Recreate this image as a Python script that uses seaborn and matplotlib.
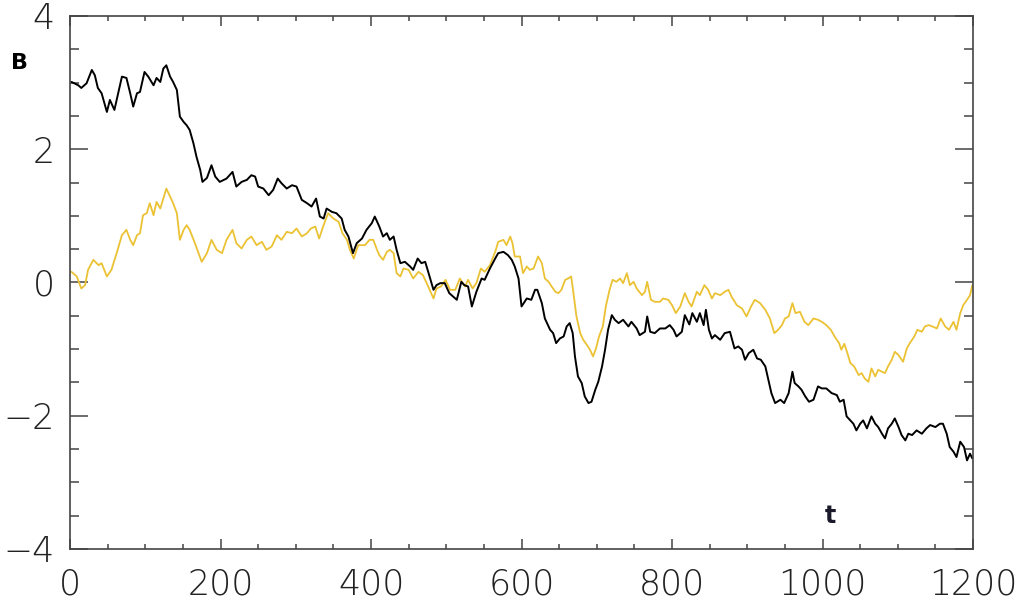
import matplotlib
matplotlib.use('Agg')
import matplotlib.pyplot as plt
from matplotlib.ticker import MultipleLocator
import pandas as pd
import seaborn as sns

# black series
t_black = [2, 11, 15, 22, 29, 33, 37, 42, 49, 53, 59, 64, 69, 75, 80, 84, 89, 93, 99, 104,
           111, 115, 120, 124, 128, 133, 137, 142, 146, 151, 155, 159, 164, 168, 173, 176, 182, 188, 193, 199,
           208, 216, 221, 228, 235, 241, 246, 250, 257, 264, 270, 276, 281, 288, 295, 301, 308, 315, 321, 327,
           332, 337, 341, 348, 354, 361, 365, 370, 376, 381, 388, 394, 401, 405, 411, 416, 421, 425, 430, 434,
           439, 445, 452, 456, 462, 467, 472, 476, 483, 487, 492, 498, 504, 509, 514, 520, 524, 529, 534, 540,
           547, 551, 558, 565, 569, 576, 582, 587, 591, 596, 600, 607, 613, 618, 621, 627, 631, 638, 642, 646,
           651, 656, 660, 664, 668, 671, 675, 680, 684, 689, 693, 698, 702, 707, 711, 715, 720, 724, 729, 735,
           742, 746, 753, 757, 764, 767, 771, 777, 784, 791, 797, 802, 806, 813, 817, 823, 827, 833, 837, 842,
           845, 849, 853, 857, 864, 870, 877, 883, 888, 893, 897, 902, 908, 913, 918, 924, 928, 932, 937, 944,
           949, 955, 960, 963, 968, 972, 977, 982, 988, 994, 999, 1005, 1012, 1019, 1023, 1028, 1032, 1037, 1041, 1045,
           1050, 1054, 1059, 1065, 1070, 1074, 1079, 1083, 1087, 1092, 1096, 1101, 1105, 1110, 1114, 1119, 1125, 1132, 1138, 1143,
           1150, 1156, 1160, 1165, 1169, 1174, 1178, 1183, 1188, 1192, 1196, 1199]
b_black = [3.01, 2.96, 2.92, 2.99, 3.19, 3.11, 2.92, 2.84, 2.56, 2.74, 2.59, 2.84, 3.09, 3.07, 2.84, 2.64, 2.84, 2.86, 3.16, 3.09,
           2.96, 3.07, 3.01, 3.21, 3.26, 3.09, 3.01, 2.89, 2.49, 2.41, 2.36, 2.29, 2.09, 1.89, 1.69, 1.51, 1.57, 1.76, 1.59, 1.51,
           1.56, 1.66, 1.44, 1.51, 1.54, 1.61, 1.59, 1.44, 1.41, 1.31, 1.39, 1.56, 1.49, 1.41, 1.46, 1.44, 1.24, 1.19, 1.14, 1.26,
           0.99, 0.96, 1.11, 1.06, 1.04, 0.96, 0.79, 0.69, 0.44, 0.59, 0.66, 0.79, 0.89, 0.99, 0.84, 0.69, 0.74, 0.64, 0.69, 0.49,
           0.29, 0.31, 0.24, 0.19, 0.36, 0.29, 0.31, 0.16, -0.11, -0.04, -0.01, -0.01, -0.16, -0.21, -0.26, 0.01, -0.04, -0.06, -0.36, -0.14,
           0.06, 0.04, 0.21, 0.36, 0.44, 0.46, 0.41, 0.34, 0.24, 0.06, -0.36, -0.24, -0.26, -0.11, -0.11, -0.31, -0.54, -0.71, -0.76, -0.91,
           -0.84, -0.81, -0.66, -0.61, -0.76, -1.11, -1.41, -1.51, -1.71, -1.81, -1.79, -1.61, -1.49, -1.26, -1.01, -0.71, -0.49, -0.56, -0.61, -0.56,
           -0.66, -0.59, -0.69, -0.79, -0.74, -0.51, -0.74, -0.76, -0.69, -0.69, -0.64, -0.71, -0.81, -0.74, -0.49, -0.63, -0.46, -0.59, -0.46, -0.64,
           -0.41, -0.71, -0.84, -0.79, -0.86, -0.76, -0.74, -0.99, -0.96, -1.01, -1.16, -1.06, -1.01, -1.14, -1.16, -1.26, -1.46, -1.66, -1.81, -1.76,
           -1.81, -1.66, -1.34, -1.51, -1.56, -1.61, -1.71, -1.79, -1.76, -1.56, -1.59, -1.59, -1.66, -1.69, -1.79, -1.76, -2.01, -2.07, -2.12, -2.22,
           -2.12, -2.07, -2.19, -2.01, -2.12, -2.17, -2.27, -2.34, -2.19, -2.12, -2.04, -2.17, -2.29, -2.37, -2.27, -2.29, -2.22, -2.27, -2.19, -2.14,
           -2.17, -2.12, -2.12, -2.27, -2.47, -2.54, -2.62, -2.39, -2.47, -2.67, -2.57, -2.64]

# yellow series
t_yellow = [2, 9, 15, 20, 24, 31, 38, 42, 49, 55, 62, 69, 75, 80, 84, 89, 93, 97, 102, 106,
            111, 115, 120, 124, 128, 133, 137, 142, 146, 151, 155, 159, 166, 175, 182, 188, 195, 202, 208, 216,
            221, 228, 235, 241, 248, 255, 261, 268, 275, 281, 288, 295, 301, 308, 315, 320, 326, 331, 337, 343,
            350, 357, 362, 368, 372, 377, 383, 392, 398, 403, 408, 411, 416, 421, 425, 430, 434, 439, 443, 450,
            456, 463, 469, 476, 483, 487, 493, 499, 505, 512, 518, 525, 529, 535, 540, 546, 551, 558, 565, 569,
            576, 580, 585, 588, 591, 598, 602, 607, 611, 616, 622, 627, 631, 636, 640, 645, 649, 653, 658, 662,
            666, 669, 673, 678, 682, 687, 691, 695, 699, 703, 708, 712, 717, 721, 726, 731, 735, 740, 744, 749,
            753, 760, 764, 767, 772, 777, 784, 788, 795, 800, 805, 811, 817, 822, 826, 833, 837, 843, 848, 853,
            857, 864, 870, 875, 879, 886, 893, 899, 905, 910, 917, 924, 930, 936, 941, 946, 950, 955, 960, 964,
            970, 976, 981, 988, 994, 999, 1005, 1011, 1016, 1022, 1025, 1029, 1033, 1037, 1042, 1048, 1052, 1056, 1061, 1065,
            1070, 1074, 1079, 1083, 1087, 1092, 1096, 1101, 1107, 1112, 1116, 1122, 1126, 1132, 1136, 1141, 1146, 1152, 1157, 1163,
            1168, 1174, 1178, 1183, 1187, 1192, 1196, 1199]
b_yellow = [0.16, 0.09, -0.09, -0.04, 0.19, 0.34, 0.26, 0.29, 0.09, 0.19, 0.44, 0.71, 0.79, 0.64, 0.56, 0.71, 0.74, 1.01, 1.04, 1.19,
            1.01, 1.21, 1.11, 1.26, 1.41, 1.29, 1.19, 1.04, 0.64, 0.79, 0.86, 0.79, 0.59, 0.31, 0.44, 0.64, 0.49, 0.44, 0.64, 0.79,
            0.59, 0.51, 0.64, 0.69, 0.56, 0.61, 0.49, 0.54, 0.71, 0.64, 0.76, 0.74, 0.81, 0.69, 0.74, 0.81, 0.84, 0.66, 0.86, 1.04,
            0.96, 0.91, 0.74, 0.64, 0.49, 0.36, 0.56, 0.56, 0.64, 0.64, 0.49, 0.41, 0.34, 0.46, 0.49, 0.44, 0.14, 0.09, 0.21, 0.19,
            0.06, 0.16, 0.11, -0.06, -0.24, -0.09, -0.06, 0.04, -0.11, -0.11, 0.06, -0.06, 0.04, -0.09, -0.01, 0.21, 0.16, 0.26, 0.46, 0.61,
            0.64, 0.56, 0.69, 0.59, 0.39, 0.39, 0.14, 0.24, 0.19, 0.21, 0.39, 0.29, 0.06, 0.01, -0.06, -0.14, -0.16, -0.11, 0.04, 0.06,
            0.09, -0.16, -0.51, -0.76, -0.86, -0.94, -1.01, -1.11, -0.99, -0.81, -0.66, -0.36, -0.11, 0.04, 0.01, 0.06, -0.01, 0.14, -0.04, 0.01,
            -0.09, -0.19, -0.14, 0.01, -0.26, -0.29, -0.29, -0.24, -0.26, -0.34, -0.46, -0.36, -0.16, -0.29, -0.36, -0.14, -0.19, -0.04, -0.11, -0.24,
            -0.16, -0.19, -0.14, -0.11, -0.21, -0.34, -0.39, -0.51, -0.36, -0.26, -0.31, -0.41, -0.54, -0.76, -0.71, -0.64, -0.54, -0.51, -0.31, -0.46,
            -0.44, -0.59, -0.64, -0.54, -0.56, -0.59, -0.64, -0.71, -0.81, -0.91, -1.01, -0.92, -1.06, -1.21, -1.26, -1.39, -1.36, -1.44, -1.49, -1.29,
            -1.41, -1.31, -1.34, -1.36, -1.26, -1.16, -1.04, -1.09, -1.19, -0.99, -0.91, -0.81, -0.71, -0.74, -0.66, -0.64, -0.66, -0.69, -0.54, -0.66,
            -0.71, -0.59, -0.71, -0.46, -0.34, -0.26, -0.19, -0.04]

x_ticks = [0, 200, 400, 600, 800, 1000, 1200]
y_ticks = [-4, -2, 0, 2, 4]

black = pd.DataFrame({'t': t_black, 'B': b_black})
yellow = pd.DataFrame({'t': t_yellow, 'B': b_yellow})

sns.set_style('ticks')
plt.rcParams['font.family'] = ['DejaVu Sans']

fig = plt.figure(figsize=(10.19, 6.06), dpi=100)
ax = fig.add_axes([0.0687, 0.0941, 0.8862, 0.8795])

sns.lineplot(x='t', y='B', data=yellow, color='#EBC234', linewidth=1.3, estimator=None, ax=ax)
sns.lineplot(x='t', y='B', data=black, color='black', linewidth=1.4, estimator=None, ax=ax)

ax.set_xlim(0, 1200)
ax.set_ylim(-4, 4)
ax.set_xticks(x_ticks)
ax.set_yticks(y_ticks)
ax.set_xticklabels([str(v) for v in x_ticks], fontweight='light')
ax.set_yticklabels([str(v).replace('-', '\u2212') for v in y_ticks], fontweight='light')
ax.xaxis.set_minor_locator(MultipleLocator(50))
ax.yaxis.set_minor_locator(MultipleLocator(0.5))
ax.set_xlabel('')
ax.set_ylabel('')

ax.tick_params(axis='both', which='both', direction='in', top=True, right=True,
               color='#444444', width=1.1, labelcolor='#222222', labelsize=25)
ax.tick_params(axis='x', which='major', length=7, pad=13)
ax.tick_params(axis='x', which='minor', length=3.5)
ax.tick_params(axis='y', which='major', length=13, pad=11)
ax.tick_params(axis='y', which='minor', length=6.5)
for s in ax.spines.values():
    s.set_color('#444444')
    s.set_linewidth(1.2)

fig.text(0.0196, 0.896, 'B', fontsize=16, fontweight='bold', color='black', ha='center', va='center')
ax.text(1010, -3.5, 't', fontsize=17, fontweight='bold', color='#1a1a2a', ha='center', va='center')

plt.savefig('out.png', dpi=100)
